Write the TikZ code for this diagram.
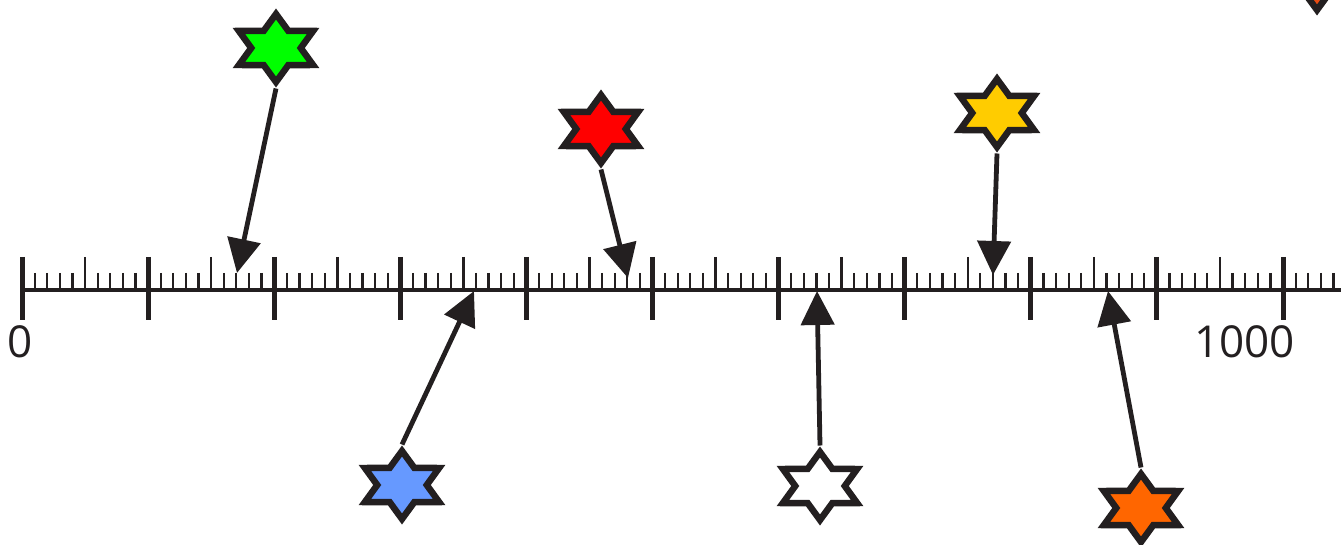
\documentclass[tikz,border=0pt]{standalone}
\usepackage{fontspec}
\setmainfont{Open Sans}
\usetikzlibrary{shapes.geometric,arrows.meta}
\definecolor{ink}{RGB}{35,31,32}
\definecolor{stargreen}{RGB}{0,255,0}
\definecolor{starred}{RGB}{255,0,0}
\definecolor{staryellow}{RGB}{255,204,0}
\definecolor{starblue}{RGB}{102,153,255}
\definecolor{starorange}{RGB}{255,102,0}
\definecolor{starvermilion}{RGB}{232,75,18}
\begin{document}
\begin{tikzpicture}[x=1pt,y=-1pt,
  hexstar/.style={star,star points=6,star point ratio=1.73,draw=ink,line width=6.5pt,
    inner sep=0pt,minimum size=68pt,xscale=1.26,transform shape},
  pointer/.style={draw=ink,line width=4.8pt,-{Triangle[length=34pt,width=33pt]}},
  lbl/.style={anchor=base east,inner sep=0pt,text=ink,font=\fontsize{44}{44}\selectfont}]
  \useasboundingbox (0,0) rectangle (1341,545);
  % the scale
  \draw[ink,line width=4.5pt] (20,290) -- (1350,290);
  \foreach \i in {0,...,10} {
    \draw[ink,line width=5pt] ({22+126.1*\i},257) -- ({22+126.1*\i},320);
    \draw[ink,line width=2.5pt] ({85.05+126.1*\i},257) -- ({85.05+126.1*\i},290);
    \foreach \k in {1,2,3,4,6,7,8,9}
      \draw[ink,line width=2.2pt] ({22+126.1*\i+12.61*\k},273) -- ({22+126.1*\i+12.61*\k},290);
  }
  \node[lbl] (zero) at (33,357) {0};
  \node[lbl] (thousand) at (1295,357) {1000};
  % stars
  \node[hexstar,fill=stargreen] (green) at (276,48) {};
  \node[hexstar,fill=starred] (red) at (601,129) {};
  \node[hexstar,fill=staryellow] (yellow) at (997,113) {};
  \node[hexstar,fill=starblue] (blue) at (402,485) {};
  \node[hexstar,fill=white] (white) at (820,486) {};
  \node[hexstar,fill=starorange] (orange) at (1141,508) {};
  \node[hexstar,fill=starvermilion] (corner) at (1317,-24) {};
  % where they point
  \coordinate (tg) at (237,273);
  \coordinate (tr) at (628,278);
  \coordinate (ty) at (993,275);
  \coordinate (tb) at (474,291);
  \coordinate (tw) at (817,291);
  \coordinate (to) at (1108,291);
  \draw[pointer] (green.south) -- (tg);
  \draw[pointer] (red.south) -- (tr);
  \draw[pointer] (yellow.south) -- (ty);
  \draw[pointer] (blue.north) -- (tb);
  \draw[pointer] (white.north) -- (tw);
  \draw[pointer] (orange.north) -- (to);
\end{tikzpicture}
\end{document}
